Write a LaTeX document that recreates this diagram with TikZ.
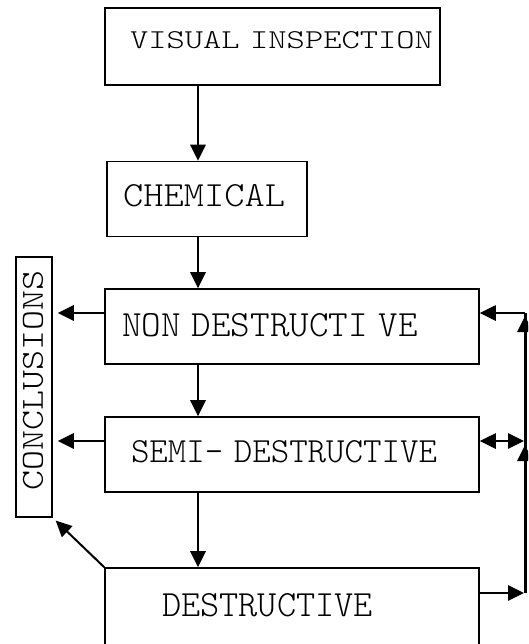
\documentclass[tikz,border=0pt]{standalone}
\usepackage{fontspec}
\usepackage{graphicx}
\setmonofont{Latin Modern Mono Light}
\usetikzlibrary{arrows.meta,calc}
\newcommand{\fitt}[3]{\resizebox{#1pt}{#2pt}{\ttfamily #3}}
\newcommand{\gp}{\hspace{0.3em}}
\begin{document}
\begin{tikzpicture}[x=1pt,y=-1pt,
  boxnode/.style={draw=black,line width=1.6pt,rectangle,inner sep=0pt,fill=white},
  txt/.style={inner sep=0pt,anchor=center},
  arr/.style={line width=2.8pt,-{Triangle[length=16pt,width=15pt]}},
  darr/.style={line width=2.8pt,{Triangle[length=16pt,width=15pt]}-{Triangle[length=16pt,width=15pt]}},
  thinarr/.style={line width=2pt,-{Triangle[length=16pt,width=15pt]}}]
\useasboundingbox (0,0) rectangle (528,644);
\clip (0,0) rectangle (528,644);
\fill[white] (0,0) rectangle (528,644);
% boxes
\node[boxnode,minimum width=335pt,minimum height=77pt] (b1) at (272.5,46.5) {};
\node[boxnode,minimum width=200pt,minimum height=75pt] (b2) at (207,199) {};
\node[boxnode,minimum width=374pt,minimum height=75pt] (b3) at (292,326.5) {};
\node[boxnode,minimum width=374pt,minimum height=75pt] (b4) at (292,454.5) {};
\node[boxnode,minimum width=374pt,minimum height=152pt] (b5) at (292,644) {};
\node[boxnode,minimum width=36pt,minimum height=260pt] (conc) at (34,387) {};
% texts
\node[txt] (t1) at (281.5,40) {\fitt{303}{17}{VISUAL\gp INSPECTION}};
\node[txt] (t2) at (204,196) {\fitt{162}{22}{CHEMICAL}};
\node[txt] (t3) at (270,325) {\fitt{296}{23}{NON\gp DESTRUCTI\gp VE}};
\node[txt] (t4) at (284,452) {\fitt{306}{22}{SEMI-\gp DESTRUCTIVE}};
\node[txt] (t5) at (267.5,605) {\fitt{211}{23}{DESTRUCTIVE}};
\node[txt] (t6) at (33,380) {\rotatebox{90}{\fitt{220}{20}{CONCLUSIONS}}};
% vertical flow
\draw[arr] (198,0 |- b1.south) -- (198,0 |- b2.north);
\draw[arr] (198,0 |- b2.south) -- (198,0 |- b3.north);
\draw[arr] (198,0 |- b3.south) -- (198,0 |- b4.north);
\draw[arr] (198,0 |- b4.south) -- (198,0 |- b5.north);
% to conclusions
\draw[arr,shorten >=5pt] (b3.west |- 0,313) -- (conc.east |- 0,313);
\draw[arr,shorten >=5pt] (b4.west |- 0,441) -- (conc.east |- 0,441);
\draw[thinarr,shorten >=4pt] (b5.north west) -- (conc.south east);
% right feedback
\coordinate (rt) at (525,313);
\coordinate (rm) at (525,441);
\coordinate (rb) at (525,593);
\draw[arr,shorten >=1pt] (b5.east |- rb) ++(-2,0) -- (rb);
\draw[line width=3pt] (rb) -- (rt);
\draw[arr] (rt) -- (b3.east |- rt);
\draw[darr,shorten >=1pt] (b4.east |- rm) -- (rm);
\draw[arr] (525,470) -- (525,445);
\draw[arr] (525,340) -- (525,316);
\end{tikzpicture}
\end{document}
